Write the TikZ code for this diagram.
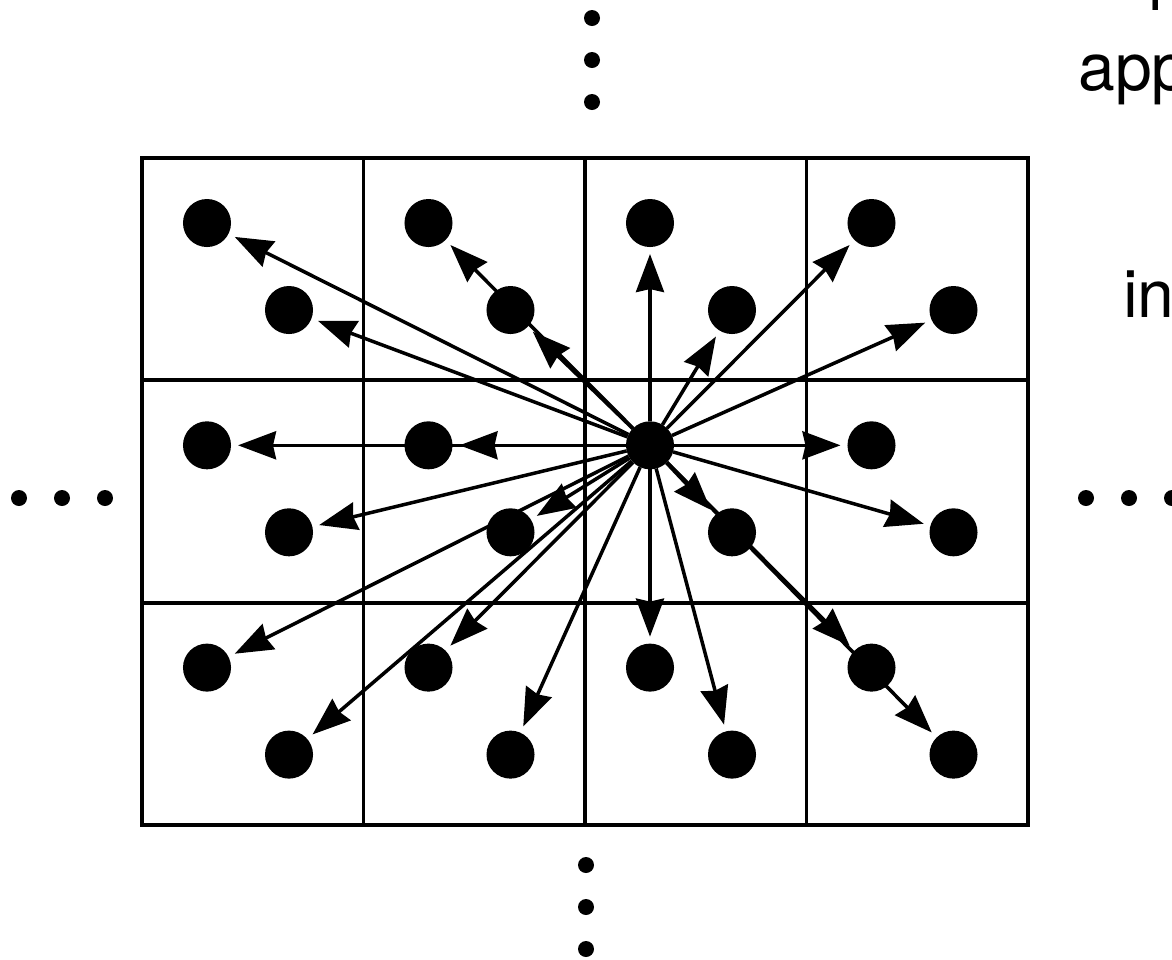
\documentclass[tikz,border=0pt]{standalone}
\usepackage{fontspec}
\setmainfont{TeX Gyre Heros}
\usetikzlibrary{arrows.meta}
\tikzset{
  gpoint/.style={circle, fill=black, inner sep=0pt, outer sep=0pt,
    minimum size=0.48cm},
  gridline/.style={line width=0.038cm, color=black},
  arrow/.style={-{Stealth[length=0.38cm, width=0.28cm, inset=0.03cm]},
    line width=0.035cm, shorten >=0.07cm},
  lbl/.style={font=\fontsize{18.8}{22}\selectfont, inner sep=0pt,
    anchor=base west}
}

\begin{document}
\begin{tikzpicture}[x=0.01cm, y=-0.01cm]
  \useasboundingbox (0,0) rectangle (1172,959);

  % Grid of cells
  \draw[gridline] (142,158) rectangle (1028,824.9);
  \foreach \x in {363.5,585,806.5} \draw[gridline] (\x,158) -- (\x,824.9);
  \foreach \y in {380.3,602.6} \draw[gridline] (142,\y) -- (1028,\y);

  % Two points per cell
  \foreach \c in {0,...,3} \foreach \r in {0,...,2} {
    \node[gpoint] (a\c\r) at ({142+221.5*\c+65}, {158+222.3*\r+65}) {};
    \node[gpoint] (b\c\r) at ({142+221.5*\c+147}, {158+222.3*\r+152}) {};
  }

  % Arrows from the centre point
  \foreach \n in {a00,b00,a10,b10,a20,b20,a30,b30,
                  a01,b01,a11,b11,b21,a31,b31,
                  a02,b02,a12,b12,a22,b22,a32,b32}
    \draw[arrow] (a21) -- (\n);

  % Continuation dots
  \foreach \y in {18,60,102} \fill (592,\y) circle[radius=8];
  \foreach \y in {865,907,949} \fill (586,\y) circle[radius=8];
  \foreach \x in {19,62,105} \fill (\x,498) circle[radius=8];
  \foreach \x in {1086,1129,1172} \fill (\x,498) circle[radius=8];

  % Cut-off text on the right
  \node[lbl] (txtl) at (1147.5,10) {l};
  \node[lbl] (txtapp) at (1077.6,90) {app};
  \node[lbl] (txtin) at (1122.5,317) {in};
\end{tikzpicture}
\end{document}
